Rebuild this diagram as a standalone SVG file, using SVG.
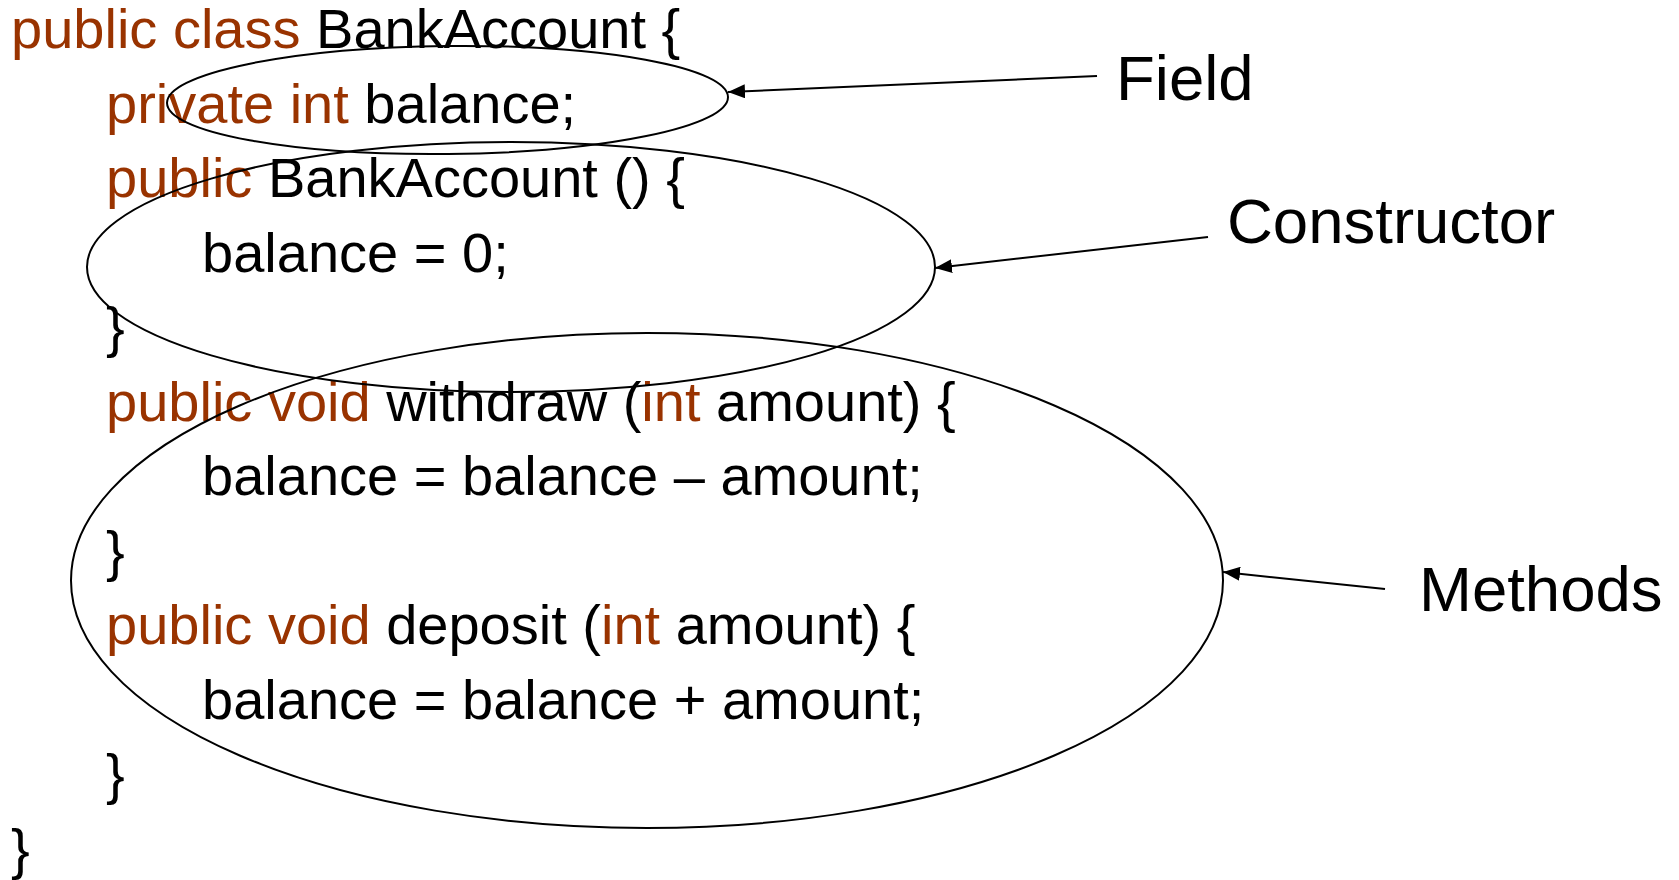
<svg xmlns="http://www.w3.org/2000/svg" width="1679" height="880" viewBox="0 0 1679 880">
<defs>
<style>
.code{font-family:"Liberation Sans",Arial,sans-serif;font-size:56px;fill:#000}
.kw{fill:#993300}
.lbl{font-family:"Liberation Sans",Arial,sans-serif;font-size:63.5px;fill:#000}
.ell{fill:none;stroke:#000;stroke-width:2}
.conn{fill:none;stroke:#000;stroke-width:2;marker-end:url(#ah)}
</style>
<marker id="ah" markerUnits="userSpaceOnUse" markerWidth="18" markerHeight="14" refX="17" refY="7" orient="auto">
<path d="M0,0 L17,7 L0,14 Z" fill="#000"/>
</marker>
</defs>
<rect width="1679" height="880" fill="#fff"/>
<g id="code">
<text class="code" x="11" y="48"><tspan class="kw">public class</tspan> BankAccount {</text>
<text class="code" x="106" y="122.5"><tspan class="kw">private int</tspan> balance;</text>
<text class="code" x="106" y="197"><tspan class="kw">public</tspan> BankAccount () {</text>
<text class="code" x="202" y="271.5">balance = 0;</text>
<text class="code" x="106" y="346">}</text>
<text class="code" x="106" y="420.5"><tspan class="kw">public void</tspan> withdraw (<tspan class="kw">int</tspan> amount) {</text>
<text class="code" x="202" y="495">balance = balance – amount;</text>
<text class="code" x="106" y="569.5">}</text>
<text class="code" x="106" y="644"><tspan class="kw">public void</tspan> deposit (<tspan class="kw">int</tspan> amount) {</text>
<text class="code" x="202" y="718.5">balance = balance + amount;</text>
<text class="code" x="106" y="793">}</text>
<text class="code" x="11" y="867.5">}</text>
</g>
<g id="field">
<ellipse class="ell" cx="447.5" cy="100" rx="280.5" ry="54" transform="rotate(-0.6 447.5 100)"/>
<text class="lbl" x="1116" y="100">Field</text>
</g>
<g id="constructor">
<ellipse class="ell" cx="511" cy="267" rx="424" ry="125"/>
<text class="lbl" x="1227" y="243">Constructor</text>
</g>
<g id="methods">
<ellipse class="ell" cx="647" cy="580.5" rx="576" ry="247.5"/>
<text class="lbl" x="1419" y="611">Methods</text>
</g>
<g id="connectors">
<line class="conn" x1="1097" y1="76" x2="728" y2="92"/>
<line class="conn" x1="1208" y1="237" x2="935" y2="268"/>
<line class="conn" x1="1385" y1="589" x2="1223" y2="572"/>
</g>
</svg>
